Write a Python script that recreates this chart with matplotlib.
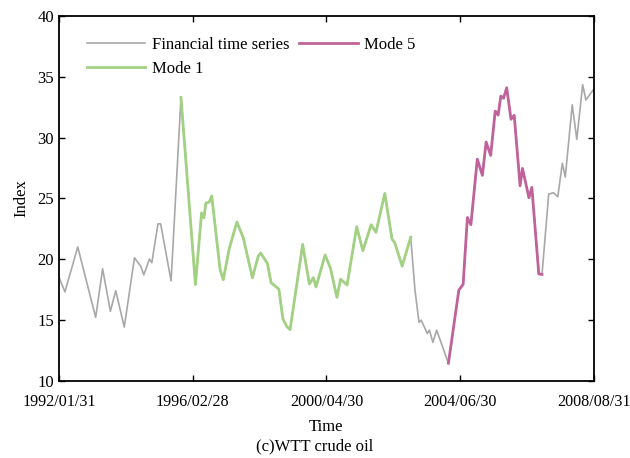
import matplotlib

matplotlib.use("Agg")
import matplotlib.pyplot as plt

# time axis: 0..200 evenly split between the five dated ticks
tick_pos = [0, 50, 100, 150, 200]
tick_labels = ["1992/01/31", "1996/02/28", "2000/04/30", "2004/06/30", "2008/08/31"]

# turning points of the series
t = [0, 2.2, 7.0, 13.7, 16.3, 19.2, 21.2, 24.4, 28.2, 30.6, 31.7, 33.8, 34.7,
     37.0, 38.0, 41.9, 45.6,
     51.0, 53.3, 54.2, 54.9, 56.2, 57.1, 60.2, 61.4, 63.7, 66.5, 68.9, 72.3,
     74.5, 75.4, 77.9, 79.3, 82.2, 83.7, 85.2, 86.4, 91.1, 93.6, 95.1, 96.1,
     99.5, 101.5, 103.9, 105.3, 107.7, 111.3, 113.6, 116.7, 118.5, 121.8,
     124.5, 125.5, 128.3, 131.5,
     133.1, 134.6, 135.4, 137.7, 138.5, 139.8, 141.2, 145.6,
     149.5, 151.1, 152.7, 154.0, 156.4, 158.3, 159.7, 161.4, 163.1, 164.2,
     165.2, 166.2, 167.4, 169.0, 170.2, 172.4, 173.3, 175.7, 176.8, 179.4,
     180.6, 183.1, 184.9, 186.5, 188.2, 189.3, 191.9, 193.6, 195.8, 197.0, 200]
price = [18.5, 17.3, 21.0, 15.2, 19.2, 15.7, 17.4, 14.4, 20.1, 19.4, 18.7, 20.0, 19.7,
         22.9, 22.9, 18.2, 33.3,
         17.9, 23.8, 23.4, 24.6, 24.7, 25.2, 19.15, 18.3, 20.9, 23.05, 21.75, 18.46,
         20.25, 20.5, 19.65, 18.05, 17.53, 15.09, 14.43, 14.2, 21.2, 17.95, 18.47, 17.71,
         20.34, 19.25, 16.85, 18.35, 17.86, 22.66, 20.69, 22.83, 22.2, 25.4,
         21.65, 21.37, 19.42, 21.8,
         17.45, 14.79, 14.98, 13.88, 14.15, 13.14, 14.15, 11.43,
         17.45, 17.92, 23.42, 22.83, 28.22, 26.89, 29.63, 28.53, 32.18, 31.85,
         33.42, 33.23, 34.1, 31.5, 31.83, 26.03, 27.46, 25.05, 25.9, 18.77,
         18.74, 25.35, 25.46, 25.13, 27.88, 26.75, 32.7, 29.85, 34.35, 33.09, 34.0]

# where the two highlighted modes sit on the series (start, end index)
mode1_span = (16, 54)
mode5_span = (62, 83)

plt.rcParams["font.family"] = ["Liberation Serif", "DejaVu Serif"]
plt.rcParams["font.size"] = 12

fig = plt.figure(figsize=(6.3, 4.58), dpi=100)
ax = fig.add_axes([0.0937, 0.169, 0.849, 0.796])

ax.plot(t, price, color="#a8a8a8", linewidth=1.2, label="Financial time series")
a, b = mode1_span
ax.plot(t[a:b + 1], price[a:b + 1], color="#a3d184", linewidth=2.0, label="Mode 1")
a, b = mode5_span
ax.plot(t[a:b + 1], price[a:b + 1], color="#c0639b", linewidth=2.0, label="Mode 5")

ax.set_xlim(0, 200)
ax.set_ylim(10, 40)
ax.set_xticks(tick_pos)
ax.set_xticklabels(tick_labels)
ax.set_yticks(range(10, 41, 5))
ax.tick_params(direction="in", top=True, right=True, length=4, width=1)
ax.tick_params(axis="x", pad=10, labelsize=11.6)
for s in ax.spines.values():
    s.set_linewidth(1.3)
ax.set_xlabel("Time", labelpad=6)
ax.set_ylabel("Index", labelpad=6)
fig.text(0.5, 0.026, "(c)WTT crude oil", ha="center", va="center")

ax.legend(loc="upper left", ncol=2, frameon=False, handlelength=3.5,
          handletextpad=0.4, columnspacing=0.6, labelspacing=0.5,
          borderaxespad=0.3, bbox_to_anchor=(0.03, 0.975))

fig.savefig("out.png", dpi=100)
